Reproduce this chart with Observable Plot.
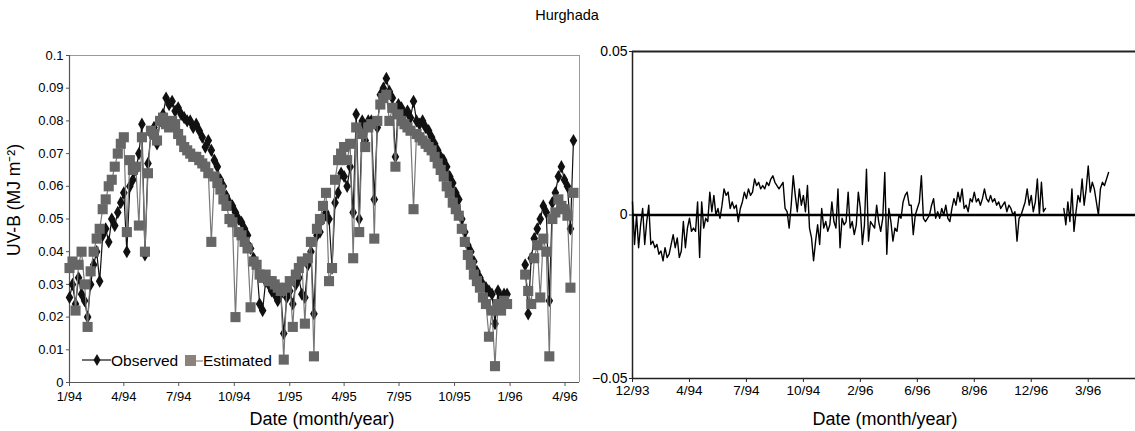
<!DOCTYPE html>
<html>
<head>
<meta charset="utf-8">
<script src="https://cdn.jsdelivr.net/npm/d3@7"></script>
<script src="https://cdn.jsdelivr.net/npm/@observablehq/plot@0.6"></script>
<style>
  html, body { margin: 0; padding: 0; background: #fff; }
  #root { position: relative; width: 1135px; height: 431px; font-family: "Liberation Sans", Arial, sans-serif; color: #000; overflow: hidden; }
  #root svg { position: absolute; top: 0; }
  .lbl { position: absolute; white-space: nowrap; line-height: 1; }
</style>
</head>
<body>
<div id="root"></div>
<script>
const titleText = "Hurghada";
const yLabelLeft = "UV-B (MJ m\u207B\u00B2)";
const xLabel = "Date (month/year)";

// Left panel: values every 5 days starting 1 Jan 1994
const startDate = "1994-01-01";
const stepDays = 5;
const observed = [
  0.026, 0.030, 0.024, 0.032, 0.027, 0.025, 0.020, 0.030, 0.036, 0.040,
  0.031, 0.045, 0.047, 0.043, 0.050, 0.048, 0.052, 0.055, 0.058, 0.040,
  0.060, 0.062, 0.065, 0.070, 0.079, 0.039, 0.067, 0.076, 0.078, 0.073,
  0.080, 0.082, 0.087, 0.085, 0.086, 0.083, 0.084, 0.082, 0.081, 0.080,
  0.080, 0.078, 0.079, 0.077, 0.075, 0.072, 0.074, 0.071, 0.068, 0.066,
  0.062, 0.060, 0.057, 0.055, 0.054, 0.052, 0.050, 0.049, 0.047, 0.045,
  0.041, 0.038, 0.036, 0.024, 0.022, 0.031, 0.030, 0.028, 0.027, 0.025,
  0.027, 0.015, 0.026, 0.028, 0.024, 0.030, 0.032, 0.027, 0.026, 0.036,
  0.040, 0.021, 0.045, 0.046, 0.050, 0.052, 0.050, 0.035, 0.055, 0.058,
  0.064, 0.063, 0.060, 0.066, 0.052, 0.082, 0.050, 0.080, 0.074, 0.080,
  0.080, 0.056, 0.078, 0.088, 0.090, 0.093, 0.089, 0.087, 0.069, 0.085,
  0.084, 0.082, 0.083, 0.081, 0.086, 0.080, 0.079, 0.080, 0.078, 0.077,
  0.075, 0.073, 0.071, 0.069, 0.068, 0.066, 0.063, 0.061, 0.058, 0.056,
  0.050, 0.046, 0.042, 0.040, 0.037, 0.034, 0.032, 0.030, 0.029, 0.028,
  0.027, 0.018, 0.028, 0.026, 0.027, 0.027, null, null, null, null,
  null, 0.036, 0.021, 0.038, 0.044, 0.047, 0.050, 0.054, 0.052, 0.025,
  0.055, 0.058, 0.063, 0.066, 0.062, 0.060, 0.047, 0.074
];
const estimated = [
  0.035, 0.037, 0.022, 0.036, 0.040, 0.030, 0.017, 0.034, 0.040, 0.044,
  0.047, 0.053, 0.056, 0.060, 0.062, 0.066, 0.070, 0.073, 0.075, 0.046,
  0.068, 0.065, 0.066, 0.048, 0.075, 0.040, 0.064, 0.077, 0.076, 0.074,
  0.080, 0.081, 0.079, 0.078, 0.080, 0.079, 0.076, 0.074, 0.072, 0.071,
  0.070, 0.069, 0.069, 0.068, 0.067, 0.066, 0.064, 0.043, 0.063, 0.061,
  0.059, 0.056, 0.054, 0.050, 0.049, 0.020, 0.046, 0.045, 0.043, 0.041,
  0.023, 0.037, 0.036, 0.033, 0.032, 0.033, 0.031, 0.031, 0.030, 0.029,
  0.028, 0.007, 0.029, 0.031, 0.017, 0.033, 0.035, 0.037, 0.018, 0.038,
  0.043, 0.008, 0.047, 0.050, 0.054, 0.058, 0.031, 0.035, 0.062, 0.068,
  0.070, 0.072, 0.068, 0.073, 0.038, 0.078, 0.046, 0.076, 0.072, 0.078,
  0.079, 0.044, 0.080, 0.085, 0.087, 0.088, 0.080, 0.084, 0.066, 0.082,
  0.080, 0.079, 0.078, 0.077, 0.053, 0.076, 0.075, 0.074, 0.073, 0.072,
  0.071, 0.069, 0.067, 0.065, 0.063, 0.060, 0.058, 0.055, 0.053, 0.051,
  0.047, 0.043, 0.039, 0.036, 0.033, 0.031, 0.029, 0.026, 0.024, 0.014,
  0.022, 0.005, 0.024, 0.022, 0.025, 0.024, null, null, null, null,
  null, 0.033, 0.028, 0.024, 0.038, 0.042, 0.026, 0.044, 0.040, 0.008,
  0.050, 0.052, 0.056, 0.054, 0.053, 0.051, 0.029, 0.058
];
const leftXDomain = ["1994-01-01", "1996-04-25"];
const leftTickDates = ["1994-01-01", "1994-04-01", "1994-07-01", "1994-10-01", "1995-01-01",
  "1995-04-01", "1995-07-01", "1995-10-01", "1996-01-01", "1996-04-01"];
const leftYTicks = [0, 0.01, 0.02, 0.03, 0.04, 0.05, 0.06, 0.07, 0.08, 0.09, 0.1];

// Right panel: difference series, 28 samples per tick interval
const samplesPerTick = 28;
const difference = [
  0.004, -0.009, 0.000, -0.010, -0.003, 0.002, -0.009, -0.002, 0.003, -0.009,
  -0.008, -0.010, -0.009, -0.012, -0.011, -0.014, -0.010, -0.013, -0.012, -0.009,
  -0.006, -0.010, -0.007, -0.013, -0.011, -0.002, -0.010, -0.004, -0.001, -0.005,
  -0.004, -0.005, 0.004, -0.013, 0.004, -0.004, -0.001, -0.002, 0.007, 0.001,
  0.006, 0.000, 0.002, -0.001, 0.003, 0.008, 0.006, 0.007, 0.002, 0.004,
  0.002, 0.003, -0.002, 0.002, 0.004, 0.007, 0.005, 0.008, 0.006, 0.007,
  0.011, 0.009, 0.010, 0.008, 0.009, 0.008, 0.010, 0.009, 0.011, 0.012,
  0.010, 0.009, 0.008, 0.009, 0.010, 0.002, 0.001, -0.004, 0.003, 0.012,
  0.006, 0.001, 0.008, 0.003, 0.006, 0.001, 0.009, -0.004, -0.007, -0.014,
  -0.008, -0.003, -0.009, 0.002, -0.004, -0.002, -0.005, -0.003, 0.004, -0.002,
  -0.004, 0.008, -0.010, -0.001, -0.003, -0.002, 0.007, -0.004, -0.002, -0.006,
  -0.003, 0.007, 0.002, -0.009, -0.003, 0.014, -0.008, -0.002, -0.003, -0.004,
  0.003, -0.002, -0.005, -0.001, 0.013, -0.012, 0.002, -0.002, -0.008, -0.004,
  -0.005, 0.000, -0.001, 0.004, 0.006, 0.007, 0.003, 0.003, -0.006, 0.000,
  0.002, 0.004, 0.012, -0.001, -0.002, -0.001, 0.000, 0.003, 0.005, -0.001,
  0.001, -0.001, 0.002, 0.000, 0.003, -0.001, -0.002, 0.002, 0.005, 0.003,
  0.007, 0.004, 0.008, 0.002, 0.003, 0.001, 0.005, 0.004, 0.007, 0.004,
  0.005, 0.003, 0.005, 0.008, 0.005, 0.004, 0.006, 0.004, 0.005, 0.003,
  0.004, 0.002, 0.003, 0.004, 0.001, 0.003, 0.002, 0.000, 0.001, -0.008,
  -0.001, 0.000, 0.002, 0.004, 0.008, 0.003, 0.006, 0.001, 0.004, 0.011,
  0.000, 0.010, 0.001, 0.002, null, null, null, null, null, null,
  null, null, 0.002, -0.003, 0.004, -0.002, 0.008, -0.005, 0.001, 0.006,
  0.004, 0.011, 0.003, 0.008, 0.015, 0.007, 0.010, 0.008, 0.004, 0.000,
  0.008, 0.010, 0.009, 0.011, 0.013
];
const rightTickLabels = ["12/93", "4/94", "7/94", "10/94", "2/96", "6/96", "8/96", "12/96", "3/96"];
const rightXMax = 8.83;
const rightYTicks = [-0.05, 0, 0.05];

const legendItems = ["Observed", "Estimated"];

// ---------- build ----------
const root = document.getElementById("root");
const font = "'Liberation Sans', Arial, sans-serif";
const t0 = new Date(startDate + "T00:00:00Z");
const dayMs = 86400000;
const obsData = observed.map((v, i) => ({date: new Date(t0.getTime() + i * stepDays * dayMs), v}));
const estData = estimated.map((v, i) => ({date: new Date(t0.getTime() + i * stepDays * dayMs), v}));
const xd0 = new Date(leftXDomain[0] + "T00:00:00Z"), xd1 = new Date(leftXDomain[1] + "T00:00:00Z");
const fmtMY = d3.utcFormat("%-m/%y");

const left = Plot.plot({
  width: 600, height: 431,
  marginLeft: 69, marginRight: 21, marginTop: 55, marginBottom: 49,
  style: {fontFamily: font, fontSize: "13px", color: "#000", background: "transparent", overflow: "visible"},
  x: {type: "utc", domain: [xd0, xd1]},
  y: {domain: [0, 0.1]},
  marks: [
    Plot.ruleY([0.1], {stroke: "#9a9a9a", strokeWidth: 1}),
    Plot.ruleX([xd1], {stroke: "#9a9a9a", strokeWidth: 1}),
    Plot.axisX({ticks: leftTickDates.map(s => new Date(s + "T00:00:00Z")), tickFormat: fmtMY, tickSize: 4, tickPadding: 5, label: null, stroke: "#555", fontSize: 13}),
    Plot.axisY({ticks: leftYTicks, tickFormat: d => String(d), tickSize: 3, tickPadding: 3, label: null, stroke: "#555", fontSize: 13}),
    Plot.ruleX([xd0], {stroke: "#555", strokeWidth: 1.2}),
    Plot.ruleY([0], {stroke: "#555", strokeWidth: 1.2}),
    Plot.line(obsData, {x: "date", y: "v", stroke: "#111", strokeWidth: 1.2}),
    Plot.dot(obsData, {x: "date", y: "v", symbol: "diamond", r: 4, fill: "#111", stroke: "none"}),
    Plot.line(estData, {x: "date", y: "v", stroke: "#777", strokeWidth: 1.2}),
    Plot.dot(estData, {x: "date", y: "v", symbol: "square", r: 5.7, fill: "#666", stroke: "none"})
  ]
});
left.style.left = "0px";
root.appendChild(left);

const diffData = difference.map((v, i) => ({t: i / samplesPerTick, v}));
const right = Plot.plot({
  width: 545, height: 431,
  marginLeft: 42, marginRight: 0, marginTop: 51, marginBottom: 53,
  style: {fontFamily: font, fontSize: "13.5px", color: "#000", background: "transparent", overflow: "visible"},
  x: {domain: [0, rightXMax]},
  y: {domain: [-0.05, 0.05]},
  marks: [
    Plot.ruleY([0.05], {stroke: "#222", strokeWidth: 2}),
    Plot.axisX({ticks: d3.range(rightTickLabels.length), tickFormat: i => rightTickLabels[i], tickSize: 4, tickPadding: 3, label: null, stroke: "#222", fontSize: 13.5}),
    Plot.axisY({ticks: rightYTicks, tickFormat: d => d < 0 ? "\u2212" + String(-d) : String(d), tickSize: 3, tickPadding: 2, label: null, stroke: "#222", fontSize: 14}),
    Plot.ruleX([0], {stroke: "#222", strokeWidth: 1.5}),
    Plot.ruleY([-0.05], {stroke: "#222", strokeWidth: 1.5}),
    Plot.line(diffData, {x: "t", y: "v", stroke: "#000", strokeWidth: 1.4}),
    Plot.ruleY([0], {stroke: "#000", strokeWidth: 2.5})
  ]
});
right.style.left = "590px";
root.appendChild(right);

// Title & axis labels
function addLabel(text, css) {
  const d = document.createElement("div");
  d.className = "lbl";
  d.textContent = text;
  Object.assign(d.style, css);
  root.appendChild(d);
  return d;
}
addLabel(titleText, {left: "567px", top: "15px", transform: "translate(-50%, -50%)", fontSize: "14.5px"});
addLabel(xLabel, {left: "322px", top: "419px", transform: "translate(-50%, -50%)", fontSize: "18px"});
addLabel(xLabel, {left: "885px", top: "419px", transform: "translate(-50%, -50%)", fontSize: "18px"});
addLabel(yLabelLeft, {left: "15px", top: "200px", transform: "translate(-50%, -50%) rotate(-90deg)", fontSize: "17.5px"});

// Legend
const ns = "http://www.w3.org/2000/svg";
const lg = document.createElementNS(ns, "svg");
lg.setAttribute("width", "220"); lg.setAttribute("height", "24");
lg.style.left = "78px"; lg.style.top = "348px";
lg.innerHTML = `
  <line x1="4" y1="12" x2="33" y2="12" stroke="#111" stroke-width="1.2"/>
  <path d="M19,6 L22.5,12 L19,18 L15.5,12 Z" fill="#111"/>
  <text x="33" y="17.5" font-family="${font}" font-size="15.5px" fill="#000"></text>
  <rect x="107" y="7" width="11" height="11" fill="#8c827c"/>
  <line x1="118" y1="13" x2="125" y2="13" stroke="#8c827c" stroke-width="1.2"/>
  <text x="125" y="17.5" font-family="${font}" font-size="15.5px" fill="#000"></text>`;
const texts = lg.querySelectorAll("text");
texts[0].textContent = legendItems[0];
texts[1].textContent = legendItems[1];
root.appendChild(lg);
</script>
</body>
</html>
